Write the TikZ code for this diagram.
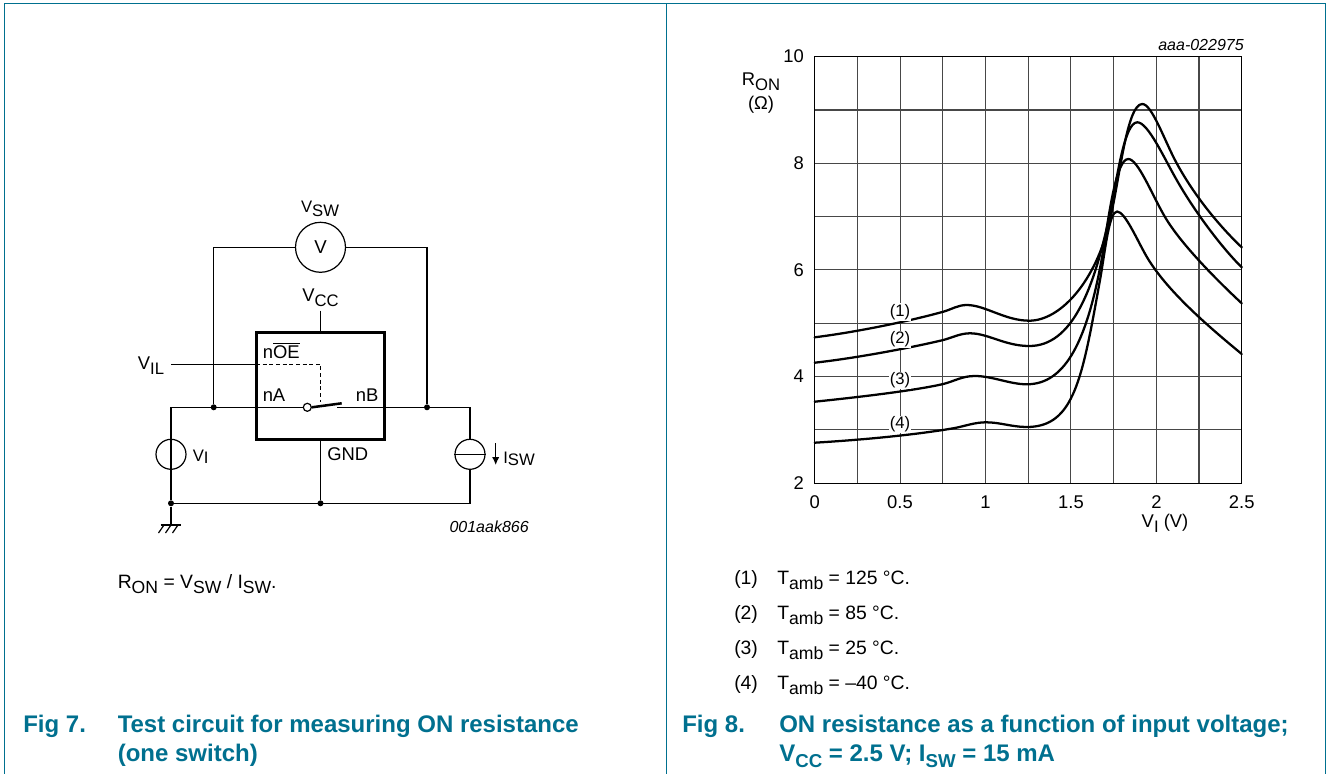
\documentclass[tikz,border=0pt]{standalone}
\usepackage{fontspec}
\usetikzlibrary{arrows.meta}
\setmainfont{Liberation Sans}
\definecolor{nxp}{HTML}{00708F}
\newcommand{\subt}[1]{\raisebox{-0.28em}{\fontsize{12.5}{12.5}\selectfont #1}}
\newcommand{\subm}[1]{\raisebox{-0.28em}{\fontsize{13.2}{13.2}\selectfont #1}}
\newcommand{\subs}[1]{\raisebox{-0.12em}{\fontsize{12.5}{12.5}\selectfont #1}}
\newcommand{\subb}[1]{\raisebox{-0.28em}{\fontsize{14}{14}\selectfont #1}}
\tikzset{
  x=0.75pt,y=-0.75pt,
  wire/.style={line width=0.9pt,black},
  dashwire/.style={line width=0.9pt,black,dash pattern=on 3pt off 2pt},
  icbox/.style={draw,line width=2.1pt,minimum width=96.5pt,minimum height=80pt,inner sep=0pt},
  src/.style={circle,draw,line width=0.9pt,minimum size=22.5pt,inner sep=0pt},
  meter/.style={circle,draw,line width=0.9pt,minimum size=37.5pt,inner sep=0pt,font=\fontsize{14}{14}\selectfont},
  jn/.style={circle,fill=black,minimum size=4.5pt,inner sep=0pt},
  opn/.style={circle,draw,fill=white,line width=0.9pt,minimum size=6pt,inner sep=0pt},
  lbl/.style={inner sep=0pt,anchor=base,font=\fontsize{13.8}{15}\selectfont},
  lbll/.style={lbl,anchor=base west},
  note/.style={lbl,anchor=base east,font=\fontsize{12}{13}\selectfont\itshape},
  body/.style={inner sep=0pt,anchor=base west,font=\fontsize{14.5}{16}\selectfont},
  captxt/.style={inner sep=0pt,anchor=base west,text=nxp,font=\fontsize{18}{20}\selectfont\bfseries},
  gridl/.style={line width=0.8pt,black!72},
  axl/.style={line width=0.85pt,black},
  curve/.style={line width=1.7pt,black,line cap=round,line join=round},
  tag/.style={inner sep=0.6pt,fill=white,font=\fontsize{12.5}{13}\selectfont},
  framel/.style={line width=0.75pt,nxp}
}
\begin{document}
\begin{tikzpicture}
\useasboundingbox (0,0) rectangle (1328,774);
\fill[white] (0,0) rectangle (1328,774);
% frames
\coordinate (fa) at (4,774); \coordinate (fb) at (4,4); \coordinate (fc) at (1325,4); \coordinate (fd) at (1325,774);
\coordinate (fe) at (666,4); \coordinate (ff) at (666,774);
\draw[framel] (fa) -- (fb) -- (fc) -- (fd);
\draw[framel] (fe) -- (ff);
% circuit
\node[icbox] (ic) at (320.5,386) {};
\node[meter] (vm) at (320.5,247.3) {V};
\node[src] (vi) at (171,454.3) {};
\node[src] (isw) at (470,454.3) {};
\coordinate (tl) at (213.7,247.3);
\coordinate (tr) at (427,247.3);
\node[jn] (ja) at (213.7,407.3) {};
\node[jn] (jb) at (427,407.3) {};
\coordinate (cl) at (171,407.3);
\coordinate (cr) at (470,407.3);
\node[jn] (jc) at (171,503.3) {};
\node[jn] (jd) at (320.5,503.3) {};
\coordinate (br) at (470,503.3);
\coordinate (vcc) at (320.5,310.7);
\coordinate (vil) at (171,364.3);
\coordinate (oe) at (256,364.3);
\coordinate (oc) at (320.5,364.3);
\coordinate (od) at (320.5,401.7);
\node[opn] (sa) at (307.3,407.3) {};
\coordinate (sb) at (341.7,403.3);
\coordinate (sc) at (337.3,407.3);
\coordinate (gnd) at (171,525);
\draw[wire] (vm.west) -- (tl) -- (ja);
\draw[wire] (vm.east) -- (tr) -- (jb);
\draw[wire] (cl) -- (sa.west);
\draw[wire] (sc) -- (cr);
\draw[wire] (cl) -- (vi.north);
\draw[wire] (vi.north) -- (vi.south);
\draw[wire] (vi.south) -- (jc);
\draw[wire] (cr) -- (isw.north);
\draw[wire] (isw.west) -- (isw.east);
\draw[wire] (isw.south) -- (br) -- (jc);
\draw[wire] (vcc) -- (ic.north);
\draw[wire] (ic.south) -- (jd);
\draw[wire] (vil) -- (oe);
\draw[dashwire] (oe) -- (oc) -- (od);
\draw[line width=1.9pt] (sa.east) -- (sb);
\draw[wire] (jc) -- (gnd);
\draw[wire] (160.5,525) -- (180.5,525);
\draw[wire] (164,525) -- (158.5,533);
\draw[wire] (171,525) -- (165.5,533);
\draw[wire] (178,525) -- (172.5,533);
\coordinate (aa) at (495.7,443); \coordinate (ab) at (495.7,465);
\draw[wire,-{Latex[length=6pt,width=5.5pt]}] (aa) -- (ab);
\node[lbl] (l1) at (320,212) {\fontsize{12.5}{13}\selectfont V\subt{SW}};
\node[lbl] (l2) at (320.5,301.7) {V\subt{CC}};
\node[lbl] (l3) at (151,369) {V\subt{IL}};
\node[lbll] (l4) at (262.5,358) {n$\overline{\mbox{OE}}$};
\node[lbll] (l5) at (262.5,401) {nA};
\node[lbll] (l6) at (355.5,401) {nB};
\node[lbll] (l7) at (327,460.7) {GND};
\node[lbll] (l8) at (192.5,461.7) {\fontsize{12.5}{13}\selectfont V\subs{I}};
\node[lbll] (l9) at (503,463) {\fontsize{12.5}{13}\selectfont I\subs{SW}};
\node[note] (l10) at (529,532.5) {001aak866};
\node[body] (t1) at (117.5,588) {R\subm{ON} = V\subm{SW} / I\subm{SW}.};
\node[captxt] (c1) at (23,732) {Fig 7.};
\node[captxt] (c2) at (117.5,732) {Test circuit for measuring ON resistance};
\node[captxt] (c3) at (117.5,761) {(one switch)};
% chart
\foreach \i in {1,...,9} \draw[gridl] ({814.7+42.7*\i},56.7) -- ({814.7+42.7*\i},483.3);
\foreach \i in {1,...,7} \draw[gridl] (814.7,{56.7+53.3*\i}) -- (1241.7,{56.7+53.3*\i});
\draw[axl] (814.7,56.7) rectangle (1241.7,483.3);
\draw[curve] (814.7,337.3) .. controls (857,332) and (910,321) .. (943.3,311.7)
  .. controls (952,309.2) and (958,305) .. (966.7,305)
  .. controls (985,305) and (1005,320.7) .. (1029.3,320.7)
  .. controls (1060,320.7) and (1096,282) .. (1110,220)
  .. controls (1120,176) and (1127,104) .. (1142.3,104)
  .. controls (1152,104) and (1164.7,141.3) .. (1176.7,163.3)
  .. controls (1196.7,200) and (1223.7,230.3) .. (1241.7,247.3);
\draw[curve] (814.7,362.7) .. controls (857,358) and (912,347.5) .. (943.3,340)
  .. controls (952,337.8) and (960,333.3) .. (970,333.3)
  .. controls (988,333.3) and (1005,346) .. (1029.3,346)
  .. controls (1072,346) and (1094,290) .. (1110,213)
  .. controls (1117,180) and (1124,122.3) .. (1137.3,122.3)
  .. controls (1148,122.3) and (1164,158) .. (1176.7,180)
  .. controls (1196,214) and (1224,250) .. (1241.7,267.3);
\draw[curve] (814.7,401.7) .. controls (860,397) and (915,390.5) .. (943.3,384)
  .. controls (955,381) and (962,376) .. (975,376)
  .. controls (992,376) and (1010,384.3) .. (1026.7,384.3)
  .. controls (1066,384.3) and (1088,340) .. (1103.3,250)
  .. controls (1109,215) and (1116,159) .. (1128.3,159)
  .. controls (1138,159) and (1152,195) .. (1165,217)
  .. controls (1182,246) and (1222,285) .. (1241.7,303.3);
\draw[curve] (814.7,442.7) .. controls (860,440) and (915,435) .. (955,428)
  .. controls (965,426) and (975,422.3) .. (986,422.3)
  .. controls (1000,422.3) and (1012,427) .. (1026.7,427)
  .. controls (1074,427) and (1082,380) .. (1100,280)
  .. controls (1105,252) and (1109,211.5) .. (1117,211.5)
  .. controls (1125,211.5) and (1137,240) .. (1146.7,256.7)
  .. controls (1168,293) and (1214,331) .. (1241.7,354);
\node[tag] (t1a) at (900,312) {(1)};
\node[tag] (t2a) at (900,339.5) {(2)};
\node[tag] (t3a) at (900,380.5) {(3)};
\node[tag] (t4a) at (900,424.5) {(4)};
\foreach \v/\y in {10/56.7,8/163.3,6/270,4/376.7,2/483.3} \node[lbl,anchor=base east] (y\v) at (804,{\y+6}) {\v};
\foreach \v/\x in {0/814.7,0.5/900,1/985.5,1.5/1071,2/1156.5,2.5/1241.7} \node[lbl] (x\v) at (\x,508.5) {\v};
\node[lbl] (yl1) at (761,85) {R\subt{ON}};
\node[lbl] (yl2) at (761,109) {(Ω)};
\node[lbl] (xl) at (1165,527) {V\subt{I} (V)};
\node[note] (n2) at (1244,51) {aaa-022975};
\foreach \k/\t/\y in {1/125/584.5,2/85/619.5,3/25/654.5,4/{--40}/689} {
  \node[body] (k\k) at (734,\y) {(\k)};
  \node[body] (m\k) at (777,\y) {T\subm{amb} = \t{} \textdegree C.};
}
\node[captxt] (c4) at (682,732) {Fig 8.};
\node[captxt] (c5) at (779,732) {ON resistance as a function of input voltage;};
\node[captxt] (c6) at (779,761) {V\subb{CC} = 2.5 V; I\subb{SW} = 15 mA};
\end{tikzpicture}
\end{document}
